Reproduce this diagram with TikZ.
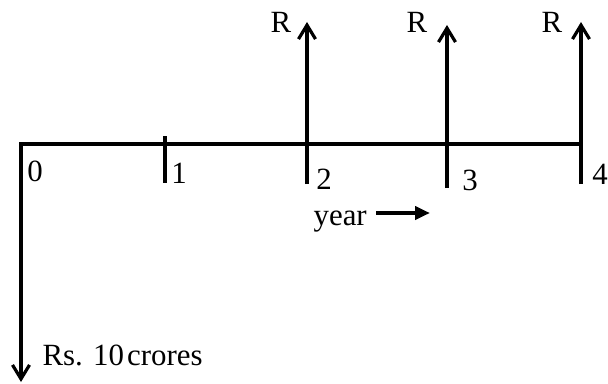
\documentclass[tikz,border=0pt]{standalone}
\usepackage{fontspec}
\setmainfont{Liberation Serif}
\usetikzlibrary{arrows.meta}

\begin{document}
\begin{tikzpicture}[x=1bp, y=1bp, line width=3.2bp,
    cash/.style={-{Straight Barb[length=14bp, width=17bp]}},
    lbl/.style={inner sep=0pt, font=\fontsize{31}{36}\selectfont}]

    % Page frame (same size as the reference)
    \useasboundingbox (0,0) rectangle (608,383);

    % Time points on the line
    \foreach \n/\x in {0/21, 1/165, 2/307, 3/447, 4/581} {
        \coordinate (p\n) at (\x,239);
    }
    \coordinate (out) at (21,1);

    % Time line and the outflow at year 0
    \draw[cash] (p4) -- (p0) -- (out);

    % Plain tick for year 1
    \draw ([yshift=8bp]p1) -- ([yshift=-39bp]p1);

    % Receipts R at years 2, 3 and 4
    \foreach \n/\lo/\hi in {2/40/122, 3/44/119, 4/40/122} {
        \draw[cash] ([yshift=-\lo bp]p\n) -- ([yshift=\hi bp]p\n);
    }

    % Year numbers
    \foreach \n/\x/\y in {0/35/212, 1/179/210, 2/324/204, 3/470/203, 4/600/209} {
        \node[lbl] (n\n) at (\x,\y) {\n};
    }

    % R labels
    \foreach \n/\x in {2/281, 3/417, 4/552} {
        \node[lbl] (r\n) at (\x,361) {R};
    }

    % Outflow label
    \node[lbl, anchor=base west] (cost) at (41,18) {Rs. 10\kern3bp crores};

    % Direction of time
    \node[lbl, anchor=base west] (yr) at (312,158) {year};
    \coordinate (yrend) at (430,170);
    \draw[line width=4bp, -{Triangle[length=15bp, width=13bp]}]
        ([xshift=8bp]yr.east |- yrend) -- (yrend);

\end{tikzpicture}
\end{document}
